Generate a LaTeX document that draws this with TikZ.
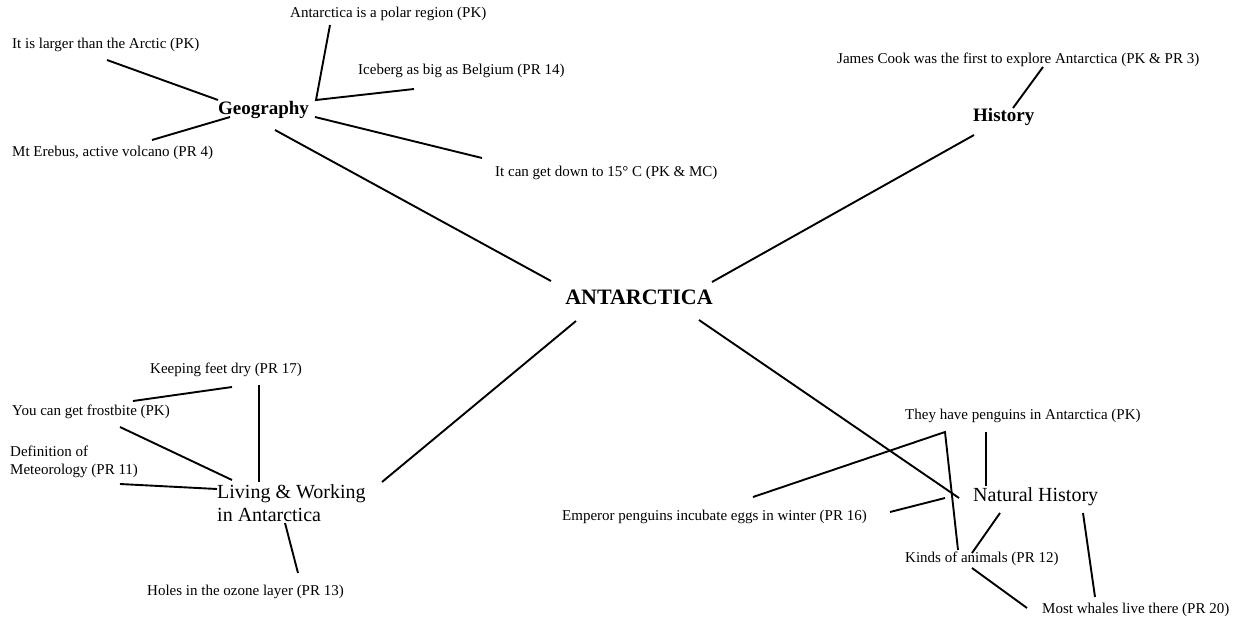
\documentclass[tikz,border=0pt]{standalone}
\usepackage{fontspec}
\setmainfont{Liberation Serif}
\begin{document}
\begin{tikzpicture}[x=1pt,y=-1pt,
  leaf/.style={anchor=west,inner sep=0pt,font=\fontsize{15}{18}\selectfont},
  topic/.style={anchor=west,inner sep=0pt,font=\fontsize{19}{23}\selectfont\bfseries},
  subtopic/.style={anchor=west,inner sep=0pt,align=left,font=\fontsize{20}{23}\selectfont},
  hub/.style={anchor=center,inner sep=0pt,font=\fontsize{22}{26}\selectfont\bfseries},
  link/.style={draw=black,line width=1.9pt}]
\fill[white] (0,0) rectangle (1239,621);
\useasboundingbox (0,0) rectangle (1239,621);

% centre
\node[hub] (ant) at (639,297) {ANTARCTICA};

% Geography branch
\node[topic] (geo) at (218,110) {Geography};
\node[leaf] (polar) at (290,14) {Antarctica is a polar region (PK)};
\node[leaf] (larger) at (12,45) {It is larger than the Arctic (PK)};
\node[leaf] (iceberg) at (358,71) {Iceberg as big as Belgium (PR 14)};
\node[leaf] (erebus) at (12,153) {Mt Erebus, active volcano (PR 4)};
\node[leaf] (cold) at (495,173) {It can get down to 15° C (PK \& MC)};

% History branch
\node[topic] (hist) at (973,117) {History};
\node[leaf] (cook) at (837,60) {James Cook was the first to explore Antarctica (PK \& PR 3)};

% Living & Working branch
\node[subtopic] (live) at (217,503) {Living \& Working\\in Antarctica};
\node[leaf] (feet) at (150,370) {Keeping feet dry (PR 17)};
\node[leaf] (frost) at (12,412) {You can get frostbite (PK)};
\node[leaf,align=left] (meteo) at (10,462) {Definition of\\Meteorology (PR 11)};
\node[leaf] (ozone) at (147,592) {Holes in the ozone layer (PR 13)};

% Natural History branch
\node[subtopic] (nat) at (973,497) {Natural History};
\node[leaf] (peng) at (905,416) {They have penguins in Antarctica (PK)};
\node[leaf] (emp) at (562,517) {Emperor penguins incubate eggs in winter (PR 16)};
\node[leaf] (kinds) at (905,559) {Kinds of animals (PR 12)};
\node[leaf] (whales) at (1042,610) {Most whales live there (PR 20)};

% connector ends
\coordinate (antNW) at (551,281);
\coordinate (antNE) at (712,282);
\coordinate (antSW) at (576,321);
\coordinate (antSE) at (699,320);

\coordinate (geoSE) at (275,130);
\coordinate (geoW) at (218,100);
\coordinate (geoSW) at (230,117);
\coordinate (geoNE) at (316,100);
\coordinate (geoE) at (315,117);
\coordinate (largerE) at (107,60);
\coordinate (erebusE) at (152,140);
\coordinate (polarS) at (330,25);
\coordinate (icebergS) at (414,89);
\coordinate (coldW) at (482,158);

\coordinate (histN) at (1013,108);
\coordinate (histSW) at (974,135);
\coordinate (cookS) at (1043,67);

\coordinate (liveNE) at (382,482);
\coordinate (liveN) at (259,482);
\coordinate (liveNW) at (232,480);
\coordinate (liveW) at (217,489);
\coordinate (liveS) at (285,523);
\coordinate (feetS) at (259,385);
\coordinate (feetW) at (232,387);
\coordinate (frostE) at (133,401);
\coordinate (frostS) at (120,427);
\coordinate (meteoE) at (120,484);
\coordinate (ozoneN) at (298,573);

\coordinate (natW) at (959,498);
\coordinate (natN) at (986,486);
\coordinate (natSW) at (1000,513);
\coordinate (natSE) at (1083,513);
\coordinate (natWW) at (945,498);
\coordinate (pengS) at (986,432);
\coordinate (fork) at (945,432);
\coordinate (empE) at (753,497);
\coordinate (empE2) at (890,512);
\coordinate (kindsN) at (958,550);
\coordinate (kindsNE) at (972,553);
\coordinate (kindsS) at (972,568);
\coordinate (whalesW) at (1027,608);
\coordinate (whalesN) at (1095,597);

% centre to topics
\draw[link] (antNW) -- (geoSE);
\draw[link] (antNE) -- (histSW);
\draw[link] (antSW) -- (liveNE);
\draw[link] (antSE) -- (natW);

% Geography leaves
\draw[link] (largerE) -- (geoW);
\draw[link] (erebusE) -- (geoSW);
\draw[link] (polarS) -- (geoNE) -- (icebergS);
\draw[link] (geoE) -- (coldW);

% History leaf
\draw[link] (cookS) -- (histN);

% Living & Working leaves
\draw[link] (feetW) -- (frostE);
\draw[link] (feetS) -- (liveN);
\draw[link] (frostS) -- (liveNW);
\draw[link] (meteoE) -- (liveW);
\draw[link] (liveS) -- (ozoneN);

% Natural History leaves
\draw[link] (empE) -- (fork) -- (kindsN);
\draw[link] (pengS) -- (natN);
\draw[link] (empE2) -- (natWW);
\draw[link] (natSW) -- (kindsNE);
\draw[link] (kindsS) -- (whalesW);
\draw[link] (natSE) -- (whalesN);
\end{tikzpicture}
\end{document}
